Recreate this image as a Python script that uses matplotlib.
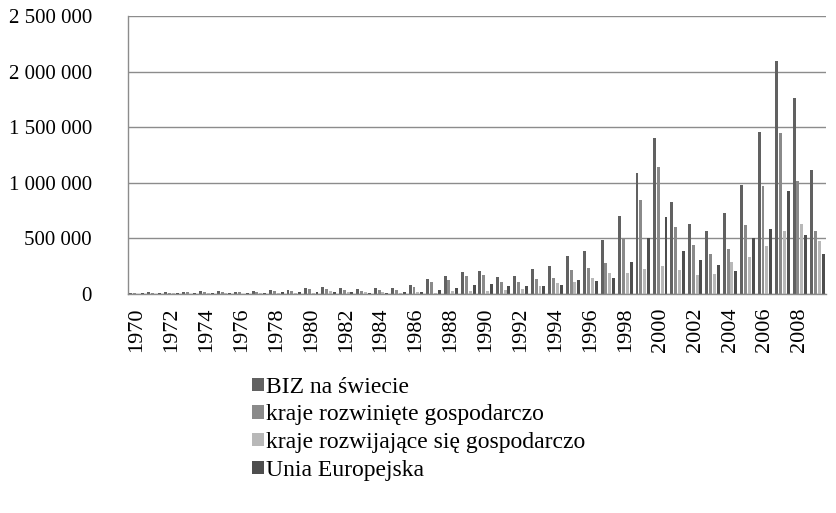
import matplotlib.pyplot as plt
import matplotlib.ticker as mticker
import numpy as np

plt.rcParams['font.family'] = ['Liberation Serif', 'DejaVu Serif']

# Data (mln USD)
years = list(range(1970, 2010))
biz = [13, 14, 16, 21, 23, 27, 22, 27, 33, 40, 54, 66, 55, 48, 52, 52, 81, 133, 160, 196,
       205, 154, 163, 223, 253, 340, 389, 482, 704, 1087, 1401, 823, 629, 566, 730, 982,
       1455, 2096, 1766, 1111]
rozwiniete = [10, 10, 11, 17, 18, 20, 18, 21, 25, 31, 45, 44, 33, 31, 35, 40, 66, 111, 130, 163,
              172, 111, 108, 139, 145, 220, 232, 280, 500, 847, 1138, 599, 437, 359, 407, 620,
              967, 1446, 1018, 566]
rozwijajace = [4, 4, 5, 4, 5, 7, 4, 6, 8, 8, 8, 26, 22, 18, 16, 12, 14, 12, 24, 27,
               27, 33, 45, 72, 99, 111, 145, 189, 189, 228, 254, 213, 174, 183, 287, 329,
               428, 569, 629, 473]
ue = [6, 7, 7, 10, 11, 11, 10, 12, 14, 16, 20, 17, 14, 13, 10, 15, 18, 33, 51, 78,
      93, 72, 72, 72, 78, 130, 120, 141, 284, 500, 695, 383, 308, 257, 210, 500,
      584, 922, 533, 359]

labels = ['BIZ na świecie', 'kraje rozwinięte gospodarczo',
          'kraje rozwijające się gospodarczo', 'Unia Europejska']
colors = ['#616161', '#8a8a8a', '#b8b8b8', '#4e4e4e']
series = [biz, rozwiniete, rozwijajace, ue]

fig = plt.figure(figsize=(8.37, 5.13), dpi=100)
ax = fig.add_axes([128 / 837, 219 / 513, 698 / 837, 278 / 513])

x = np.arange(len(years))
step, width = 0.22, 0.17
for i, (vals, lab, col) in enumerate(zip(series, labels, colors)):
    ax.bar(x + (i - 1.5) * step, np.array(vals) * 1000, width, color=col,
           label=lab, zorder=3)

ax.set_xlim(-0.5, len(years) - 0.5)
ax.set_ylim(0, 2500000)
ax.set_yticks(np.arange(0, 2500001, 500000))
ax.yaxis.set_major_formatter(
    mticker.FuncFormatter(lambda v, p: f"{v:,.0f}".replace(",", " ")))
ax.set_xticks(x[::2])
ax.set_xticklabels([str(y) for y in years[::2]], rotation=90)

ax.grid(axis='y', color='#8c8c8c', lw=1.0, zorder=0)
for s in ['top', 'right']:
    ax.spines[s].set_visible(False)
for s in ['left', 'bottom']:
    ax.spines[s].set_color('#8c8c8c')
    ax.spines[s].set_linewidth(1.0)
ax.spines['bottom'].set_zorder(4)
ax.tick_params(axis='y', length=0, pad=26, labelsize=15)
ax.tick_params(axis='x', length=0, pad=10, labelsize=16)

fig.legend(loc='upper left', bbox_to_anchor=(240 / 837, 1 - 365 / 513),
           frameon=False, fontsize=17, handlelength=0.5, handleheight=0.5,
           handletextpad=0.12, labelspacing=0.28, borderpad=0)

fig.savefig('out.png', dpi=100)
